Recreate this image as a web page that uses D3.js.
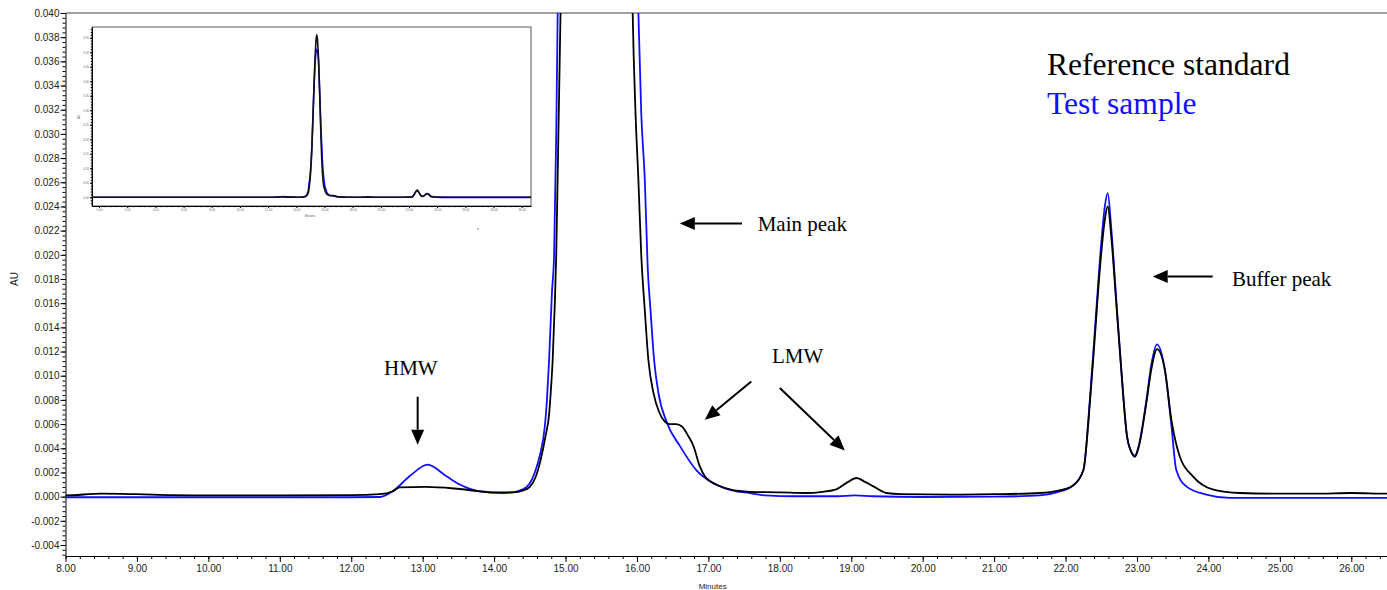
<!DOCTYPE html>
<html>
<head>
<meta charset="utf-8">
<script src="https://cdnjs.cloudflare.com/ajax/libs/d3/7.8.5/d3.min.js"></script>
<style>
	body { margin: 0; background: #fff; }
	svg { display: block; }
</style>
</head>
<body>
<svg id="chart" width="1387" height="590"></svg>
<script>
// Reference standard (black trace) - minutes / AU
var refTime = [-0.5, 8.0, 8.5, 9.0, 9.5, 10.0, 11.0, 12.0, 12.40, 12.58, 12.68, 13.05, 13.52, 13.98, 14.27,
	14.40, 14.50, 14.58, 14.65, 14.72, 14.77, 14.795, 14.82, 14.85, 14.87, 14.90, 14.93, 15.00, 15.10, 15.20, 15.30,
	15.40, 15.45, 15.50, 15.60, 15.70, 15.80, 15.87, 15.94, 15.98, 16.02, 16.06, 16.11, 16.16, 16.23, 16.31,
	16.39, 16.45, 16.55, 16.63, 16.72, 16.79, 16.88, 16.96, 17.02, 17.15, 17.30, 17.58, 18.00, 18.37, 18.60,
	18.79, 18.95, 19.07, 19.20, 19.31, 19.49, 19.70, 20.40, 21.00, 21.64, 21.90, 22.10, 22.25, 22.34, 22.41,
	22.48, 22.55, 22.59, 22.64, 22.71, 22.78, 22.86, 22.92, 22.97, 23.02, 23.13, 23.20, 23.28, 23.39, 23.48,
	23.60, 23.78, 24.06, 24.44, 25.00, 25.50, 26.00, 26.50, 31.0];
var refAU = [0.0001, 0.0001, 0.00025, 0.0002, 0.00012, 0.0001, 0.0001, 0.00012, 0.0002, 0.00044, 0.00077, 0.0008, 0.00063, 0.00036, 0.00036,
	0.0005, 0.0008, 0.0016, 0.0030, 0.0050, 0.0068, 0.0088, 0.0113, 0.0160, 0.0200, 0.0300, 0.0400, 0.075, 0.16, 0.30, 0.44,
	0.54, 0.56, 0.545, 0.45, 0.29, 0.14, 0.075, 0.0400, 0.0317, 0.0262, 0.0200, 0.0154, 0.0113, 0.0086, 0.0070,
	0.0062, 0.0060, 0.0060, 0.0058, 0.0050, 0.0042, 0.0025, 0.0016, 0.0013, 0.0009, 0.0006, 0.0004, 0.00036, 0.0003, 0.0004,
	0.0006, 0.0012, 0.00154, 0.0012, 0.00085, 0.0003, 0.0002, 0.00017, 0.0002, 0.0003, 0.0005, 0.0009, 0.0022, 0.0077, 0.0132,
	0.0188, 0.0229, 0.0240, 0.0215, 0.0160, 0.0105, 0.0050, 0.0037, 0.0033, 0.0040, 0.0077, 0.0105, 0.0122, 0.0105, 0.0064,
	0.0033, 0.0017, 0.0006, 0.0003, 0.00025, 0.00025, 0.0003, 0.00025, 0.00025];

// Test sample (blue trace)
var testTime = [-0.5, 8.0, 9.0, 10.0, 11.0, 12.0, 12.40, 12.58, 12.82, 13.07, 13.33, 13.52, 13.80, 14.12, 14.30,
	14.40, 14.50, 14.57, 14.64, 14.71, 14.74, 14.77, 14.81, 14.84, 14.87, 14.89, 15.00, 15.10, 15.20, 15.30, 15.40,
	15.46, 15.55, 15.65, 15.75, 15.85, 15.95, 16.02, 16.06, 16.11, 16.15, 16.19, 16.24, 16.30, 16.42, 16.60,
	16.83, 17.07, 17.39, 17.58, 17.80, 18.20, 18.80, 19.05, 19.30, 20.00, 21.00, 21.64, 21.90, 22.10, 22.25,
	22.34, 22.41, 22.48, 22.55, 22.59, 22.64, 22.71, 22.78, 22.86, 22.92, 22.97, 23.02, 23.13, 23.20, 23.28,
	23.39, 23.48, 23.55, 23.69, 23.97, 24.30, 26.50, 31.0];
var testAU = [-0.00005, -0.00005, -0.00005, -0.00005, -0.00005, -0.00005, -0.00003, 0.00044, 0.0017, 0.00264, 0.0017, 0.0010, 0.00044, 0.0003, 0.0004,
	0.0006, 0.0011, 0.0020, 0.0034, 0.0058, 0.0080, 0.0113, 0.0169, 0.0200, 0.0300, 0.0400, 0.085, 0.17, 0.30, 0.43, 0.50,
	0.51, 0.49, 0.38, 0.24, 0.13, 0.065, 0.0400, 0.0317, 0.0262, 0.0190, 0.0154, 0.0113, 0.0086, 0.0061, 0.0042,
	0.0022, 0.0011, 0.00044, 0.0003, 0.0001, 0.00003, 0.00003, 0.0001, 0.00003, -0.00003, 0.0, 0.0001, 0.0004, 0.0009, 0.0022,
	0.0080, 0.0137, 0.0195, 0.0240, 0.0251, 0.0222, 0.0163, 0.0105, 0.0050, 0.0037, 0.0034, 0.0041, 0.0079, 0.0109, 0.0126,
	0.0105, 0.0060, 0.0022, 0.00085, 0.00017, -0.0001, -0.0001, -0.0001];

// tick values
var xMajor = d3.range(8, 27);
var xMinor = d3.range(40, 133).map(function(i) { return i * 0.2; });
var yMajor = d3.range(-2, 21).map(function(i) { return i * 0.002; });
var yMinor = d3.range(-12, 101).map(function(i) { return i * 0.0004; });
var insetXMajor = d3.range(0, 31, 2);
var insetXMinor = d3.range(0, 77).map(function(i) { return i * 0.4; });
var insetYMajor = d3.range(0, 12).map(function(i) { return i * 0.05; });
var insetYMinor = d3.range(-2, 59).map(function(i) { return i * 0.01; });

var seriesNames = ["Reference standard", "Test sample"];
var seriesColors = ["#000000", "#1010ff"];

var width = 1387, height = 590;
var margin = { left: 65.5, top: 13, right: 0, bottom: 34 };
var sans = "'Liberation Sans', Arial, sans-serif";
var serif = "'Liberation Serif', 'Times New Roman', serif";

var svg = d3.select("#chart");

var xScale = d3.scaleLinear().domain([8, 26.5]).range([margin.left, width - margin.right]);
var yScale = d3.scaleLinear().domain([-0.00491, 0.040]).range([height - margin.bottom, margin.top]);

var refData = d3.zip(refTime, refAU);
var testData = d3.zip(testTime, testAU);

function fmt3(d) {
	var s = d.toFixed(3);
	return s === "-0.000" ? "0.000" : s;
}

// clip
var defs = svg.append("defs");
defs.append("clipPath").attr("id", "plotClip")
	.append("rect")
	.attr("x", margin.left).attr("y", margin.top)
	.attr("width", width - margin.left - margin.right)
	.attr("height", height - margin.top - margin.bottom);

// top frame line
svg.append("line")
	.attr("x1", margin.left).attr("x2", width)
	.attr("y1", margin.top).attr("y2", margin.top)
	.attr("stroke", "#444").attr("stroke-width", 1);

// axes
var yAxisG = svg.append("g")
	.attr("transform", "translate(" + margin.left + ",0)")
	.call(d3.axisLeft(yScale).tickValues(yMajor).tickFormat(fmt3).tickSize(5).tickSizeOuter(0));
svg.append("g")
	.attr("transform", "translate(" + margin.left + ",0)")
	.call(d3.axisLeft(yScale).tickValues(yMinor).tickFormat("").tickSize(3).tickSizeOuter(0))
	.select(".domain").remove();

var xAxisG = svg.append("g")
	.attr("transform", "translate(0," + (height - margin.bottom) + ")")
	.call(d3.axisBottom(xScale).tickValues(xMajor).tickFormat(function(d) { return d.toFixed(2); }).tickSize(6).tickSizeOuter(0));
svg.append("g")
	.attr("transform", "translate(0," + (height - margin.bottom) + ")")
	.call(d3.axisBottom(xScale).tickValues(xMinor).tickFormat("").tickSize(3).tickSizeOuter(0))
	.select(".domain").remove();

svg.selectAll(".tick text")
	.attr("font-family", sans)
	.attr("font-size", 10)
	.attr("fill", "#222");
yAxisG.selectAll(".tick text").attr("x", -6);
xAxisG.selectAll(".tick text").attr("y", 9);

svg.append("text")
	.attr("transform", "translate(18," + yScale(0.018) + ") rotate(-90)")
	.attr("text-anchor", "middle")
	.attr("font-family", sans).attr("font-size", 10).attr("fill", "#222")
	.text("AU");

svg.append("text")
	.attr("x", xScale(17.06)).attr("y", 589)
	.attr("text-anchor", "middle")
	.attr("font-family", sans).attr("font-size", 8).attr("fill", "#222")
	.text("Minutes");

// traces
var line = d3.line()
	.x(function(d) { return xScale(d[0]); })
	.y(function(d) { return yScale(d[1]); })
	.curve(d3.curveMonotoneX);

var content = svg.append("g").attr("clip-path", "url(#plotClip)");

content.append("path")
	.datum(testData)
	.attr("d", line)
	.attr("fill", "none")
	.attr("stroke", seriesColors[1])
	.attr("stroke-width", 1.8);

content.append("path")
	.datum(refData)
	.attr("d", line)
	.attr("fill", "none")
	.attr("stroke", seriesColors[0])
	.attr("stroke-width", 1.8);

// legend
seriesNames.forEach(function(name, i) {
	svg.append("text")
		.attr("x", xScale(21.74))
		.attr("y", yScale(i === 0 ? 0.03486 : 0.03164))
		.attr("font-family", serif)
		.attr("font-size", 31.6)
		.attr("fill", seriesColors[i])
		.text(name);
});

// annotations
function arrow(x1, y1, x2, y2) {
	var px1 = xScale(x1), py1 = yScale(y1), px2 = xScale(x2), py2 = yScale(y2);
	var ang = Math.atan2(py2 - py1, px2 - px1);
	var len = 15, half = 6.5;
	var bx = px2 - len * Math.cos(ang), by = py2 - len * Math.sin(ang);
	svg.append("line")
		.attr("x1", px1).attr("y1", py1)
		.attr("x2", bx).attr("y2", by)
		.attr("stroke", "#000").attr("stroke-width", 2);
	svg.append("path")
		.attr("d", "M" + px2 + "," + py2 +
			"L" + (bx + half * Math.sin(ang)) + "," + (by - half * Math.cos(ang)) +
			"L" + (bx - half * Math.sin(ang)) + "," + (by + half * Math.cos(ang)) + "Z")
		.attr("fill", "#000");
}

function label(txt, x, y, anchor) {
	svg.append("text")
		.attr("x", xScale(x)).attr("y", yScale(y))
		.attr("text-anchor", anchor || "start")
		.attr("font-family", serif).attr("font-size", 21).attr("fill", "#000")
		.text(txt);
}

label("Main peak", 17.69, 0.02197);
arrow(17.47, 0.02259, 16.60, 0.02259);

label("Buffer peak", 24.33, 0.01743);
arrow(24.06, 0.0182, 23.22, 0.0182);

label("HMW", 12.835, 0.01008, "middle");
arrow(12.93, 0.00826, 12.93, 0.0043);

label("LMW", 18.25, 0.01107, "middle");
arrow(17.60, 0.00952, 16.95, 0.00636);
arrow(18.00, 0.00898, 18.91, 0.00382);

// inset: full chromatogram
var inset = { left: 92, right: 531, top: 27, bottom: 206 };
var ix = d3.scaleLinear().domain([-0.5, 30.66]).range([inset.left, inset.right]);
var iy = d3.scaleLinear().domain([-0.030, 0.587]).range([inset.bottom, inset.top]);

var insetG = svg.append("g").attr("class", "inset");
insetG.append("rect")
	.attr("x", inset.left).attr("y", inset.top)
	.attr("width", inset.right - inset.left).attr("height", inset.bottom - inset.top)
	.attr("fill", "#fff").attr("stroke", "#555").attr("stroke-width", 1);

defs.append("clipPath").attr("id", "insetClip")
	.append("rect")
	.attr("x", inset.left).attr("y", inset.top)
	.attr("width", inset.right - inset.left).attr("height", inset.bottom - inset.top);

insetG.append("g")
	.attr("transform", "translate(" + inset.left + ",0)")
	.call(d3.axisLeft(iy).tickValues(insetYMajor).tickFormat(function(d) { return d.toFixed(2); }).tickSize(2).tickSizeOuter(0))
	.call(function(g) { g.selectAll("text").attr("x", -3).attr("font-size", 3).attr("fill", "#666"); });
insetG.append("g")
	.attr("transform", "translate(" + inset.left + ",0)")
	.call(d3.axisLeft(iy).tickValues(insetYMinor).tickFormat("").tickSize(1.2).tickSizeOuter(0))
	.select(".domain").remove();

insetG.append("g")
	.attr("transform", "translate(0," + inset.bottom + ")")
	.call(d3.axisBottom(ix).tickValues(insetXMajor).tickFormat(function(d) { return d.toFixed(2); }).tickSize(2).tickSizeOuter(0))
	.call(function(g) { g.selectAll("text").attr("y", 3).attr("font-size", 3).attr("fill", "#666"); });
insetG.append("g")
	.attr("transform", "translate(0," + inset.bottom + ")")
	.call(d3.axisBottom(ix).tickValues(insetXMinor).tickFormat("").tickSize(1.2).tickSizeOuter(0))
	.select(".domain").remove();

insetG.append("text")
	.attr("transform", "translate(80,117) rotate(-90)")
	.attr("text-anchor", "middle")
	.attr("font-family", sans).attr("font-size", 3).attr("fill", "#666")
	.text("AU");
insetG.append("text")
	.attr("x", ix(15)).attr("y", 217)
	.attr("text-anchor", "middle")
	.attr("font-family", sans).attr("font-size", 3).attr("fill", "#666")
	.text("Minutes");
insetG.append("circle")
	.attr("cx", 478).attr("cy", 229).attr("r", 0.8).attr("fill", "#777");

var insetLine = d3.line()
	.x(function(d) { return ix(d[0]); })
	.y(function(d) { return iy(d[1]); })
	.curve(d3.curveMonotoneX);

var insetContent = insetG.append("g").attr("clip-path", "url(#insetClip)");
insetContent.append("path")
	.datum(testData)
	.attr("d", insetLine)
	.attr("fill", "none")
	.attr("stroke", seriesColors[1])
	.attr("stroke-width", 1.6);
insetContent.append("path")
	.datum(refData)
	.attr("d", insetLine)
	.attr("fill", "none")
	.attr("stroke", "#111")
	.attr("stroke-width", 1.6);
</script>
</body>
</html>
